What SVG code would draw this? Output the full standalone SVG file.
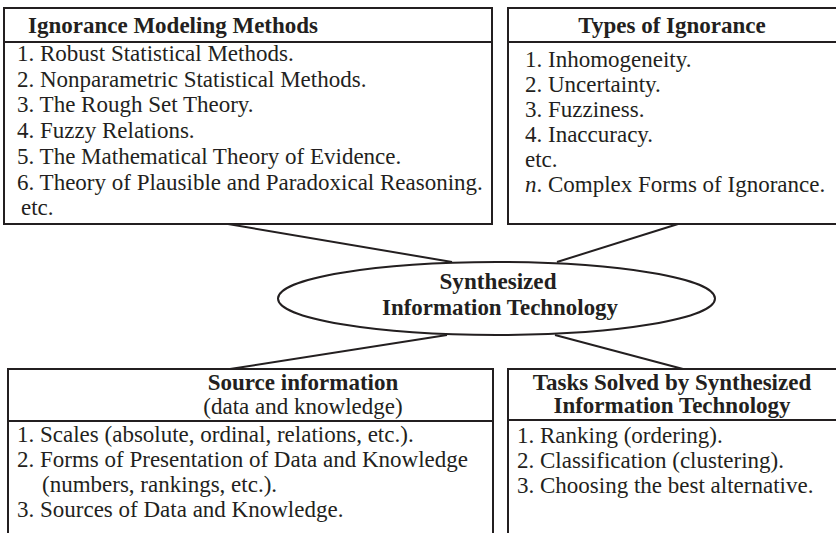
<svg xmlns="http://www.w3.org/2000/svg" width="836" height="533" viewBox="0 0 836 533">
  <style>
    .box { fill: #ffffff; stroke: #231f20; stroke-width: 2; }
    .rule { stroke: #231f20; stroke-width: 2; }
    .link { stroke: #231f20; stroke-width: 2; fill: none; }
    text { font-family: "Liberation Serif", "Times New Roman", serif; font-size: 23px; fill: #231f20; }
    .head { font-weight: bold; }
    .mid { text-anchor: middle; }
  </style>

  <rect width="836" height="533" fill="#ffffff"/>

  <!-- connectors between the central technology and the four boxes -->
  <g id="connectors">
    <line class="link" x1="228" y1="224" x2="452" y2="262"/>
    <line class="link" x1="678" y1="224" x2="557" y2="262"/>
    <line class="link" x1="447" y1="335" x2="230" y2="369"/>
    <line class="link" x1="555" y1="335" x2="683" y2="369"/>
  </g>

  <g id="ignorance-modeling-methods">
    <rect class="box" x="4" y="8" width="488" height="216"/>
    <line class="rule" x1="4" y1="42" x2="492" y2="42"/>
    <text class="head" x="28" y="33">Ignorance Modeling Methods</text>
    <text x="17" y="61">1. Robust Statistical Methods.</text>
    <text x="17" y="87">2. Nonparametric Statistical Methods.</text>
    <text x="17" y="112">3. The Rough Set Theory.</text>
    <text x="17" y="138">4. Fuzzy Relations.</text>
    <text x="17" y="164">5. The Mathematical Theory of Evidence.</text>
    <text x="17" y="190">6. Theory of Plausible and Paradoxical Reasoning.</text>
    <text x="21" y="215">etc.</text>
  </g>

  <g id="types-of-ignorance">
    <rect class="box" x="508" y="8" width="334" height="216"/>
    <line class="rule" x1="508" y1="42" x2="842" y2="42"/>
    <text class="head mid" x="672" y="33">Types of Ignorance</text>
    <text x="525" y="67">1. Inhomogeneity.</text>
    <text x="525" y="92">2. Uncertainty.</text>
    <text x="525" y="117">3. Fuzziness.</text>
    <text x="525" y="142">4. Inaccuracy.</text>
    <text x="525" y="167">etc.</text>
    <text x="525" y="192"><tspan font-style="italic">n</tspan>. Complex Forms of Ignorance.</text>
  </g>

  <g id="synthesized-information-technology">
    <ellipse class="box" cx="496.5" cy="298.5" rx="218.5" ry="36.5"/>
    <text class="head mid" x="498" y="289" font-size="24" textLength="117" lengthAdjust="spacingAndGlyphs">Synthesized</text>
    <text class="head mid" x="500" y="315" font-size="24" textLength="236" lengthAdjust="spacingAndGlyphs">Information Technology</text>
  </g>

  <g id="source-information">
    <rect class="box" x="8" y="369" width="485" height="174"/>
    <line class="rule" x1="8" y1="421" x2="493" y2="421"/>
    <text class="head mid" x="303" y="390">Source information</text>
    <text class="mid" x="303" y="414">(data and knowledge)</text>
    <text x="17" y="442">1. Scales (absolute, ordinal, relations, etc.).</text>
    <text x="17" y="467">2. Forms of Presentation of Data and Knowledge</text>
    <text x="42" y="492">(numbers, rankings, etc.).</text>
    <text x="17" y="517">3. Sources of Data and Knowledge.</text>
  </g>

  <g id="tasks-solved">
    <rect class="box" x="508" y="369" width="334" height="174"/>
    <line class="rule" x1="508" y1="420" x2="842" y2="420"/>
    <text class="head mid" x="672" y="390">Tasks Solved by Synthesized</text>
    <text class="head mid" x="672" y="413">Information Technology</text>
    <text x="517" y="443">1. Ranking (ordering).</text>
    <text x="517" y="468">2. Classification (clustering).</text>
    <text x="517" y="493">3. Choosing the best alternative.</text>
  </g>
</svg>
